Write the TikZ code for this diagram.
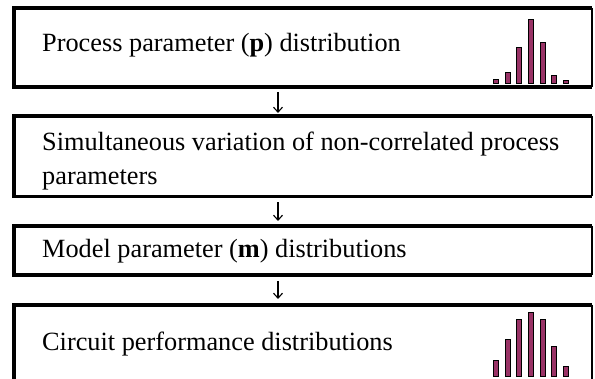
\documentclass[tikz,border=0pt]{standalone}
\usepackage{fontspec}
\setmainfont{Liberation Serif}
\usetikzlibrary{arrows.meta}
\definecolor{barcol}{HTML}{993366}
\begin{document}
\begin{tikzpicture}[x=1pt,y=-1pt,
  boxarea/.style={draw=none, inner sep=0pt, outer sep=0pt, anchor=north west, minimum width=578pt},
  thinedge/.style={line width=1.3pt},
  thickedge/.style={line width=3.8pt, line join=miter},
  txt/.style={inner sep=0pt, anchor=base west, font=\fontsize{26.3}{34}\selectfont},
  flow/.style={line width=1.1pt, -{Straight Barb[length=5pt,width=9pt,line width=1.1pt]}},
  hbar/.style={fill=barcol, draw=black, line width=0.6pt}]
\useasboundingbox (0,0) rectangle (595,379);
\fill[white] (0,0) rectangle (595,379);

% boxes
\node[boxarea, minimum height=79pt] (b1) at (14,8) {};
\node[boxarea, minimum height=80.5pt] (b2) at (14,116) {};
\node[boxarea, minimum height=49pt] (b3) at (14,226) {};
\node[boxarea, minimum height=80pt] (b4) at (14,305) {};

\foreach \b in {b1,b2,b3}{
  \draw[thinedge] (\b.north east) -- (\b.south east);
  \draw[thickedge] (\b.north east) -- (\b.north west) -- (\b.south west) -- (\b.south east);
}
\draw[thinedge] (b4.north east) -- (b4.south east);
\draw[thickedge] (b4.north east) -- (b4.north west) -- (b4.south west);

% texts
\node[txt] (t1) at (42,52) {Process parameter (\textbf{p}) distribution};
\node[txt, text width=545pt, align=flush left] (t2) at (42,151) {\hyphenpenalty=10000\relax Simultaneous variation of non-correlated process parameters};
\node[txt] (t3) at (42,258) {Model parameter (\textbf{m}) distributions};
\node[txt] (t4) at (42,351) {Circuit performance distributions};

% connectors
\draw[flow, shorten <=5pt, shorten >=3pt] ([xshift=-25pt]b1.south) -- ([xshift=-25pt]b2.north);
\draw[flow, shorten <=6pt, shorten >=5pt] ([xshift=-25pt]b2.south) -- ([xshift=-25pt]b3.north);
\draw[flow, shorten <=6pt, shorten >=6pt] ([xshift=-25pt]b3.south) -- ([xshift=-25pt]b4.north);

% histograms
\foreach \x/\t in {496/79, 507.5/72.7, 519/47.7, 531/19, 542.3/42.7, 554.2/75, 565.5/80}{
  \draw[hbar] (\x-2.5,83.3) rectangle (\x+2.5,\t);
}
\foreach \x/\t in {496/360, 507.5/339.3, 519/319.3, 531/312.3, 542.3/319.3, 554.2/346, 565.5/366.7}{
  \draw[hbar] (\x-2.5,376.7) rectangle (\x+2.5,\t);
}
\end{tikzpicture}
\end{document}
